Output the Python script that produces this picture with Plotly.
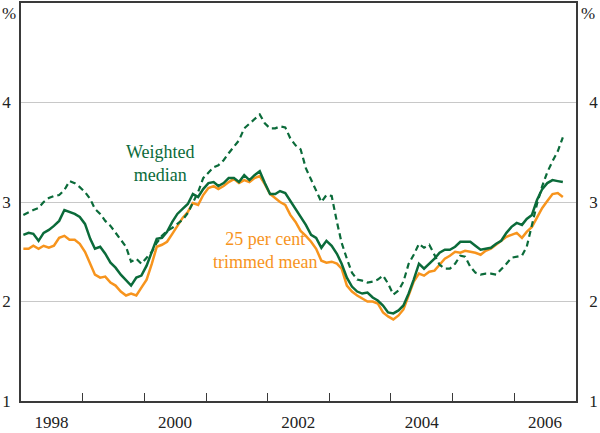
import plotly.graph_objects as go

# Monthly data, Jan 1998 - Oct 2006 (per cent)
start_year = 1998
n_months = 106
dates = [f"{start_year + (i // 12)}-{(i % 12) + 1:02d}-15" for i in range(n_months)]

weighted_median = [
    2.67, 2.69, 2.68, 2.61, 2.69, 2.72, 2.76, 2.81, 2.92, 2.90, 2.88, 2.85,
    2.78, 2.63, 2.53, 2.55, 2.48, 2.39, 2.34, 2.27, 2.21, 2.16, 2.24, 2.26,
    2.36, 2.50, 2.63, 2.64, 2.70, 2.80, 2.88, 2.93, 2.98, 3.08, 3.05, 3.13,
    3.19, 3.20, 3.16, 3.19, 3.24, 3.24, 3.20, 3.27, 3.22, 3.27, 3.31, 3.19,
    3.08, 3.08, 3.11, 3.09, 3.01, 2.94, 2.85, 2.77, 2.67, 2.64, 2.54, 2.61,
    2.56, 2.48, 2.38, 2.24, 2.15, 2.10, 2.08, 2.09, 2.04, 2.01, 1.96, 1.89,
    1.88, 1.91, 1.96, 2.08, 2.22, 2.38, 2.33, 2.38, 2.43, 2.49, 2.52, 2.52,
    2.55, 2.60, 2.60, 2.60, 2.56, 2.52, 2.53, 2.54, 2.58, 2.61, 2.69, 2.75,
    2.79, 2.77, 2.83, 2.87, 3.02, 3.13, 3.19, 3.22, 3.21, 3.20,
]

trimmed_mean = [
    2.53, 2.53, 2.56, 2.53, 2.56, 2.54, 2.56, 2.64, 2.66, 2.62, 2.62, 2.58,
    2.50, 2.38, 2.27, 2.24, 2.25, 2.19, 2.16, 2.10, 2.06, 2.08, 2.06, 2.14,
    2.22, 2.38, 2.55, 2.57, 2.60, 2.68, 2.76, 2.84, 2.90, 2.99, 2.97, 3.07,
    3.14, 3.16, 3.13, 3.16, 3.20, 3.23, 3.19, 3.22, 3.20, 3.24, 3.26, 3.18,
    3.08, 3.04, 3.00, 2.97, 2.87, 2.80, 2.71, 2.66, 2.60, 2.53, 2.41, 2.39,
    2.40, 2.38, 2.33, 2.16, 2.10, 2.06, 2.03, 2.00, 2.00, 1.98, 1.89, 1.85,
    1.82, 1.86, 1.92, 2.06, 2.20, 2.28, 2.26, 2.30, 2.31, 2.37, 2.43, 2.46,
    2.50, 2.49, 2.51, 2.50, 2.49, 2.47, 2.51, 2.53, 2.57, 2.61, 2.65, 2.67,
    2.69, 2.64, 2.70, 2.75, 2.84, 2.94, 3.01, 3.08, 3.09, 3.05,
]

dashed_series = [
    2.87, 2.90, 2.92, 2.94, 3.00, 3.04, 3.06, 3.07, 3.12, 3.21, 3.19, 3.15,
    3.10, 3.03, 2.93, 2.88, 2.81, 2.76, 2.69, 2.62, 2.55, 2.40, 2.43, 2.38,
    2.44, 2.50, 2.59, 2.66, 2.71, 2.74, 2.78, 2.82, 2.89, 3.00, 3.10, 3.24,
    3.29, 3.35, 3.37, 3.42, 3.49, 3.56, 3.62, 3.74, 3.79, 3.84, 3.88, 3.79,
    3.74, 3.74, 3.76, 3.75, 3.64, 3.57, 3.53, 3.34, 3.22, 3.12, 3.00, 3.07,
    3.06, 2.80, 2.59, 2.43, 2.29, 2.22, 2.21, 2.19, 2.20, 2.22, 2.26, 2.18,
    2.07, 2.11, 2.20, 2.38, 2.47, 2.58, 2.54, 2.57, 2.47, 2.37, 2.33, 2.33,
    2.38, 2.46, 2.45, 2.35, 2.29, 2.27, 2.28, 2.28, 2.27, 2.32, 2.38, 2.44,
    2.45, 2.46, 2.55, 2.78, 2.98, 3.16, 3.30, 3.41, 3.51, 3.65,
]

year_labels = ["1998", "2000", "2002", "2004", "2006"]
year_label_pos = [f"{y}-07-01" for y in year_labels]
year_bounds = [f"{y}-01-01" for y in range(1999, 2007)]
y_ticks = [1, 2, 3, 4]

GREEN = "#0b6b3a"
ORANGE = "#f7941d"
AXIS = "#3a3a3a"
FONT = "Liberation Serif, Times New Roman, Times, DejaVu Serif, serif"

fig = go.Figure()
fig.add_trace(go.Scatter(x=dates, y=dashed_series, mode="lines",
                         line=dict(color=GREEN, width=2.2, dash="6px,4px"),
                         yaxis="y2", showlegend=False))
fig.add_trace(go.Scatter(x=dates, y=trimmed_mean, mode="lines",
                         line=dict(color=ORANGE, width=2.5), showlegend=False))
fig.add_trace(go.Scatter(x=dates, y=weighted_median, mode="lines",
                         line=dict(color=GREEN, width=2.5), showlegend=False))

fig.update_layout(
    width=600, height=433,
    margin=dict(l=21, r=24, t=1, b=24),
    paper_bgcolor="white", plot_bgcolor="white",
    font=dict(family=FONT, size=17, color="#222"),
    xaxis=dict(
        type="date", range=["1998-01-01", "2007-01-01"],
        tickmode="array", tickvals=year_label_pos, ticktext=year_labels,
        ticks="", showgrid=False, showline=True, linecolor=AXIS, linewidth=1.5,
        mirror=True, ticklabelstandoff=5,
        minor=dict(tickmode="array", tickvals=year_bounds, ticks="inside",
                   ticklen=8, tickwidth=1.2, tickcolor=AXIS, showgrid=False),
    ),
    yaxis=dict(
        range=[1, 5], tickmode="array", tickvals=y_ticks,
        ticktext=[str(v) for v in y_ticks], ticks="",
        showgrid=True, gridcolor="#c8c8c8", gridwidth=1.2,
        showline=True, linecolor=AXIS, linewidth=1.5, zeroline=False,
        ticklabelstandoff=5,
    ),
    yaxis2=dict(
        range=[1, 5], overlaying="y", side="right", tickmode="array",
        tickvals=y_ticks, ticktext=[str(v) for v in y_ticks], ticks="",
        showgrid=False, showline=True, linecolor=AXIS, linewidth=1.5,
        zeroline=False, ticklabelstandoff=8,
    ),
)

fig.add_annotation(text="%", xref="paper", yref="y", x=0, y=4.89,
                   xanchor="right", xshift=-3, showarrow=False,
                   font=dict(family=FONT, size=17, color="#222"))
fig.add_annotation(text="%", xref="paper", yref="y", x=1, y=4.89,
                   xanchor="left", xshift=3, showarrow=False,
                   font=dict(family=FONT, size=17, color="#222"))
fig.add_annotation(text="Weighted<br>median", xref="paper", yref="paper",
                   x=0.186, y=0.596, showarrow=False, align="center",
                   font=dict(family=FONT, size=18, color=GREEN))
fig.add_annotation(text="25 per cent<br>trimmed mean", xref="paper", yref="paper",
                   x=0.44, y=0.319, showarrow=False, align="center",
                   font=dict(family=FONT, size=18, color=ORANGE))

fig.write_html("out.html", config={"displayModeBar": False},
               post_script="document.body.style.margin='0';document.body.style.padding='0';")
